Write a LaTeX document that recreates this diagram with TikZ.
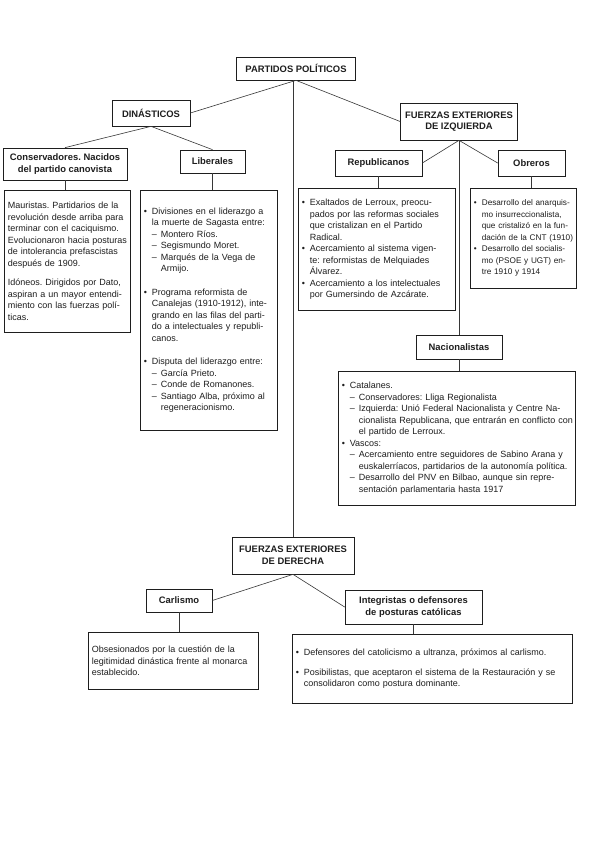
\documentclass[tikz,border=0pt]{standalone}
\usepackage{fontspec}
\setmainfont{Liberation Sans}
\frenchspacing
\definecolor{ink}{RGB}{30, 30, 30}
\definecolor{scan_gray}{RGB}{55, 55, 55}
\newlength\bulw \setlength\bulw{8pt}
\newlength\dashw \setlength\dashw{17pt}
\def \bul {\makebox[\bulw][l]{\textbullet}}
\def \dsh {\hspace*{\bulw}\makebox[\dimexpr\dashw-\bulw\relax][l]{–}}
\def \ind {\hspace*{\bulw}}
\def \dind {\hspace*{\dashw}}
\def \jl #1{\makebox[\linewidth][s]{#1}}
\def \jb #1{\bul\makebox[\dimexpr\linewidth-\bulw\relax][s]{#1}}
\def \ji #1{\ind\makebox[\dimexpr\linewidth-\bulw\relax][s]{#1}}
\def \jd #1{\dsh\makebox[\dimexpr\linewidth-\dashw\relax][s]{#1}}
\def \jdi #1{\dind\makebox[\dimexpr\linewidth-\dashw\relax][s]{#1}}

\begin{document}
\begin{tikzpicture}[
    x=1pt, y=-1pt,
    heading/.style={
        rectangle,
        draw=#1,
        fill=white,
        line width=0.7pt,
        inner sep=2pt,
        text=#1,
        font=\fontsize{9.4}{11.5}\selectfont\bfseries,
        align=center
    },
    detail/.style={
        rectangle,
        draw=#1,
        fill=white,
        line width=0.7pt,
        anchor=north west,
        inner xsep=3.5pt,
        inner ysep=4pt,
        text=#1,
        font=\fontsize{9}{11.5}\selectfont,
        align=left
    },
    link/.style={
        line width=0.6pt,
        #1
    },
]
\fill[white] (0,0) rectangle (600,848);

\node[heading=ink, minimum width=119pt, minimum height=23pt] (partidos) at (296,68.5) {PARTIDOS POLÍTICOS};

\node[heading=ink, minimum width=78pt, minimum height=26pt] (dinasticos) at (151,113) {DINÁSTICOS};
\node[heading=ink, minimum width=117pt, minimum height=37pt] (izquierda) at (459,121.5) {FUERZAS EXTERIORES\\DE IZQUIERDA};

\node[heading=ink, minimum width=124pt, minimum height=32pt] (conservadores) at (65,164) {Conservadores. Nacidos\\del partido canovista};
\node[heading=ink, minimum width=65pt, minimum height=23pt] (liberales) at (212.5,161.5) {Liberales};
\node[heading=ink, minimum width=87pt, minimum height=26pt] (republicanos) at (378.5,163) {Republicanos};
\node[heading=ink, minimum width=67pt, minimum height=26pt] (obreros) at (531.5,163) {Obreros};

\node[detail=ink, text width=119pt, minimum height=142pt] (cons_info) at (4,190) {%
\jl{Mauristas. Partidarios de la}\\
\jl{revolución desde arriba para}\\
\jl{terminar con el caciquismo.}\\
\jl{Evolucionaron hacia posturas}\\
\jl{de intolerancia prefascistas}\\
después de 1909.\\[8pt]
\jl{Idóneos. Dirigidos por Dato,}\\
\jl{aspiran a un mayor entendi-}\\
\jl{miento con las fuerzas polí-}\\
ticas.};

\node[detail=ink, text width=130pt, minimum height=240pt] (lib_info) at (140,190) {%
\jb{Divisiones en el liderazgo a}\\
\ji{la muerte de Sagasta entre:}\\
\dsh Montero Ríos.\\
\dsh Segismundo Moret.\\
\dsh Marqués de la Vega de\\
\dind Armijo.\\[12pt]
\jb{Programa reformista de}\\
\ji{Canalejas (1910-1912), inte-}\\
\ji{grando en las filas del parti-}\\
\ji{do a intelectuales y republi-}\\
\ind canos.\\[12pt]
\jb{Disputa del liderazgo entre:}\\
\dsh García Prieto.\\
\dsh Conde de Romanones.\\
\dsh Santiago Alba, próximo al\\
\dind regeneracionismo.};

\node[detail=ink, text width=150pt, minimum height=122pt] (rep_info) at (298,188) {%
\jb{Exaltados de Lerroux, preocu-}\\
\ji{pados por las reformas sociales}\\
\ji{que cristalizan en el Partido}\\
\ind Radical.\\
\jb{Acercamiento al sistema vigen-}\\
\ji{te: reformistas de Melquiades}\\
\ind Álvarez.\\
\jb{Acercamiento a los intelectuales}\\
\ind por Gumersindo de Azcárate.};

\node[detail=ink, text width=99pt, minimum height=100pt, font=\fontsize{8.2}{11.5}\selectfont] (obr_info) at (470,188) {%
\jb{Desarrollo del anarquis-}\\
\ji{mo insurreccionalista,}\\
\ji{que cristalizó en la fun-}\\
\ji{dación de la CNT (1910)}\\
\jb{Desarrollo del socialis-}\\
\ji{mo (PSOE y UGT) en-}\\
\ind tre 1910 y 1914};

\node[heading=ink, minimum width=86pt, minimum height=24pt] (nacionalistas) at (459,347) {Nacionalistas};

\node[detail=ink, text width=230pt, minimum height=134pt] (nac_info) at (338,371) {%
\bul Catalanes.\\
\dsh Conservadores: Lliga Regionalista\\
\jd{Izquierda: Unió Federal Nacionalista y Centre Na-}\\
\jdi{cionalista Republicana, que entrarán en conflicto con}\\
\dind el partido de Lerroux.\\
\bul Vascos:\\
\jd{Acercamiento entre seguidores de Sabino Arana y}\\
\jdi{euskalerríacos, partidarios de la autonomía política.}\\
\jd{Desarrollo del PNV en Bilbao, aunque sin repre-}\\
\dind sentación parlamentaria hasta 1917};

\node[heading=ink, minimum width=122pt, minimum height=37pt] (derecha) at (293,555.5) {FUERZAS EXTERIORES\\DE DERECHA};

\node[heading=ink, minimum width=66pt, minimum height=23pt] (carlismo) at (179,600.5) {Carlismo};
\node[heading=ink, minimum width=137pt, minimum height=34pt] (integristas) at (413.5,607) {Integristas o defensores\\de posturas católicas};

\node[detail=ink, text width=163pt, minimum height=57pt] (carl_info) at (88,632) {%
\jl{Obsesionados por la cuestión de la}\\
\jl{legitimidad dinástica frente al monarca}\\
establecido.};

\node[detail=ink, text width=273pt, minimum height=69pt] (integ_info) at (292,634) {%
\jb{Defensores del catolicismo a ultranza, próximos al carlismo.}\\[8pt]
\jb{Posibilistas, que aceptaron el sistema de la Restauración y se}\\
\ind consolidaron como postura dominante.};

% Main branches
\draw[link=scan_gray] (partidos.south) -- (dinasticos.east);
\draw[link=scan_gray] (partidos.south) -- (izquierda.west);
\draw[link=scan_gray] (partidos.south -| derecha.north) -- (derecha.north);

% Dinasticos
\draw[link=scan_gray] (dinasticos.south) -- (conservadores.north);
\draw[link=scan_gray] (dinasticos.south) -- (liberales.north);
\draw[link=scan_gray] (conservadores.south) -- (conservadores.south |- cons_info.north);
\draw[link=scan_gray] (liberales.south) -- (liberales.south |- lib_info.north);

% Izquierda
\draw[link=scan_gray] (izquierda.south) -- (republicanos.east);
\draw[link=scan_gray] (izquierda.south) -- (obreros.west);
\draw[link=scan_gray] (izquierda.south) -- (nacionalistas.north);
\draw[link=scan_gray] (republicanos.south) -- (republicanos.south |- rep_info.north);
\draw[link=scan_gray] (obreros.south) -- (obreros.south |- obr_info.north);
\draw[link=scan_gray] (nacionalistas.south) -- (nacionalistas.south |- nac_info.north);

% Derecha
\draw[link=scan_gray] (derecha.south) -- (carlismo.east);
\draw[link=scan_gray] (derecha.south) -- (integristas.west);
\draw[link=scan_gray] (carlismo.south) -- (carlismo.south |- carl_info.north);
\draw[link=scan_gray] (integristas.south) -- (integristas.south |- integ_info.north);

\end{tikzpicture}
\end{document}
